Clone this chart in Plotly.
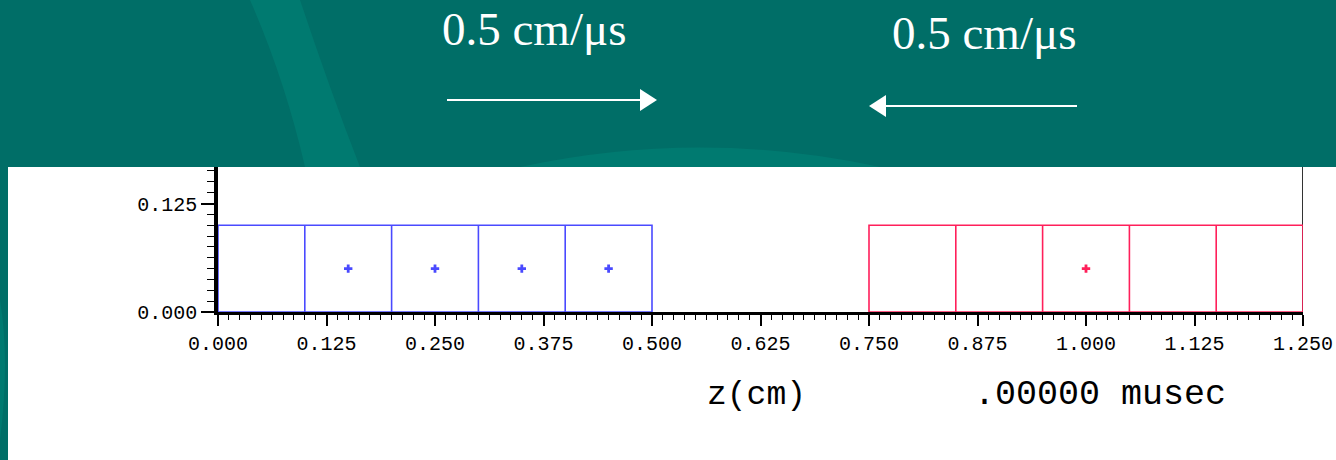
import plotly.graph_objects as go

# ---- data ----
blue_edges = [0.0, 0.1, 0.2, 0.3, 0.4, 0.5]
red_edges = [0.75, 0.85, 0.95, 1.05, 1.15, 1.25]
cell_height = 0.1
blue_points_z = [0.15, 0.25, 0.35, 0.45]
blue_points_y = [0.05, 0.05, 0.05, 0.05]
red_points_z = [1.0]
red_points_y = [0.05]
x_ticks = [0.0, 0.125, 0.25, 0.375, 0.5, 0.625, 0.75, 0.875, 1.0, 1.125, 1.25]
y_ticks = [0.0, 0.125]
speed_label = "0.5 cm/\u03bcs"
x_title = "z(cm)"
time_label = ".00000 musec"

W, H = 1336, 460
TEAL = "#006e67"
TEAL_LIGHT = "#007a70"
BLUE = "#4a4aff"
RED = "#ff1f5a"
MONO = "Liberation Mono, DejaVu Sans Mono, monospace"


def cell_path(edges, h):
    xs, ys = [], []
    xs += [edges[0], edges[-1], edges[-1], edges[0], edges[0], None]
    ys += [0, 0, h, h, 0, None]
    for e in edges[1:-1]:
        xs += [e, e, None]
        ys += [0, h, None]
    return xs, ys


def px(x):
    return x / W


def py(y):
    return 1 - y / H


fig = go.Figure()

bx, by = cell_path(blue_edges, cell_height)
rx, ry = cell_path(red_edges, cell_height)
fig.add_trace(go.Scatter(x=bx, y=by, mode="lines", line=dict(color=BLUE, width=1.6),
                         hoverinfo="skip", showlegend=False, cliponaxis=False))
fig.add_trace(go.Scatter(x=rx, y=ry, mode="lines", line=dict(color=RED, width=1.6),
                         hoverinfo="skip", showlegend=False, cliponaxis=False))
fig.add_trace(go.Scatter(x=blue_points_z, y=blue_points_y, mode="markers",
                         marker=dict(symbol="cross", size=7, color=BLUE),
                         showlegend=False))
fig.add_trace(go.Scatter(x=red_points_z, y=red_points_y, mode="markers",
                         marker=dict(symbol="cross", size=7, color=RED),
                         showlegend=False))

y_top = (312 - 167) / 868.0

shapes = [
    dict(type="path", xref="paper", yref="paper", layer="below", line=dict(width=0),
         fillcolor=TEAL_LIGHT,
         path=f"M {px(250)},{py(0)} L {px(300)},{py(0)} Q {px(330)},{py(90)} {px(360)},{py(167)} "
              f"L {px(305)},{py(167)} Q {px(285)},{py(80)} {px(250)},{py(0)} Z"),
    dict(type="path", xref="paper", yref="paper", layer="below", line=dict(width=0),
         fillcolor=TEAL_LIGHT,
         path=f"M {px(520)},{py(167)} Q {px(700)},{py(128)} {px(880)},{py(167)} Z"),
    dict(type="path", xref="paper", yref="paper", layer="below", line=dict(width=0),
         fillcolor=TEAL_LIGHT,
         path=f"M 0,{py(300)} Q {px(10)},{py(360)} 0,{py(440)} Z"),
    dict(type="rect", xref="paper", yref="paper", layer="below", line=dict(width=0),
         fillcolor="white", x0=px(8), x1=1, y0=0, y1=py(167)),
    dict(type="line", xref="x", yref="y", layer="below", x0=1.25, x1=1.25, y0=0, y1=y_top,
         line=dict(color="#333333", width=2)),
    dict(type="line", xref="paper", yref="paper", x0=px(447), x1=px(642), y0=py(100), y1=py(100),
         line=dict(color="white", width=2)),
    dict(type="path", xref="paper", yref="paper", line=dict(width=0), fillcolor="white",
         path=f"M {px(640)},{py(89)} L {px(657)},{py(100)} L {px(640)},{py(111)} Z"),
    dict(type="line", xref="paper", yref="paper", x0=px(884), x1=px(1077), y0=py(106), y1=py(106),
         line=dict(color="white", width=2)),
    dict(type="path", xref="paper", yref="paper", line=dict(width=0), fillcolor="white",
         path=f"M {px(886)},{py(95)} L {px(869)},{py(106)} L {px(886)},{py(117)} Z"),
]

annotations = [
    dict(text=speed_label, xref="paper", yref="paper", x=px(534), y=py(29), showarrow=False,
         xanchor="center", yanchor="middle",
         font=dict(family="Liberation Serif, Times New Roman, serif", size=47, color="white")),
    dict(text=speed_label, xref="paper", yref="paper", x=px(984), y=py(33), showarrow=False,
         xanchor="center", yanchor="middle",
         font=dict(family="Liberation Serif, Times New Roman, serif", size=47, color="white")),
    dict(text=x_title, xref="paper", yref="paper", x=px(757), y=py(395), showarrow=False,
         xanchor="center", yanchor="middle", font=dict(family=MONO, size=33, color="black")),
    dict(text=time_label, xref="paper", yref="paper", x=px(1100), y=py(395), showarrow=False,
         xanchor="center", yanchor="middle", font=dict(family=MONO, size=35, color="black")),
]

fig.update_layout(
    width=W, height=H,
    margin=dict(l=0, r=0, t=0, b=0, pad=0, autoexpand=False),
    paper_bgcolor=TEAL,
    plot_bgcolor="rgba(0,0,0,0)",
    shapes=shapes,
    annotations=annotations,
    showlegend=False,
    xaxis=dict(
        domain=[218 / W, 1303 / W], range=[0, 1.25],
        tickvals=x_ticks, ticktext=[f"{v:.3f}" for v in x_ticks],
        ticks="outside", ticklen=11, tickwidth=2, tickcolor="black",
        minor=dict(dtick=0.0125, tick0=0, ticks="outside", ticklen=5, tickwidth=1, tickcolor="black", showgrid=False),
        showline=True, linecolor="black", linewidth=3,
        showgrid=False, zeroline=False, automargin=False,
        tickfont=dict(family=MONO, size=20, color="black"),
        fixedrange=True,
    ),
    yaxis=dict(
        domain=[(H - 312) / H, (H - 167) / H], range=[0, y_top],
        tickvals=y_ticks, ticktext=[f"{v:.3f}" for v in y_ticks],
        ticks="outside", ticklen=13, tickwidth=2, tickcolor="black",
        minor=dict(dtick=0.0125, tick0=0, ticks="outside", ticklen=7, tickwidth=1, tickcolor="black", showgrid=False),
        showline=True, linecolor="black", linewidth=3.5,
        showgrid=False, zeroline=False, automargin=False,
        tickfont=dict(family=MONO, size=20, color="black"),
        fixedrange=True,
    ),
)

fig.write_html("out.html")
